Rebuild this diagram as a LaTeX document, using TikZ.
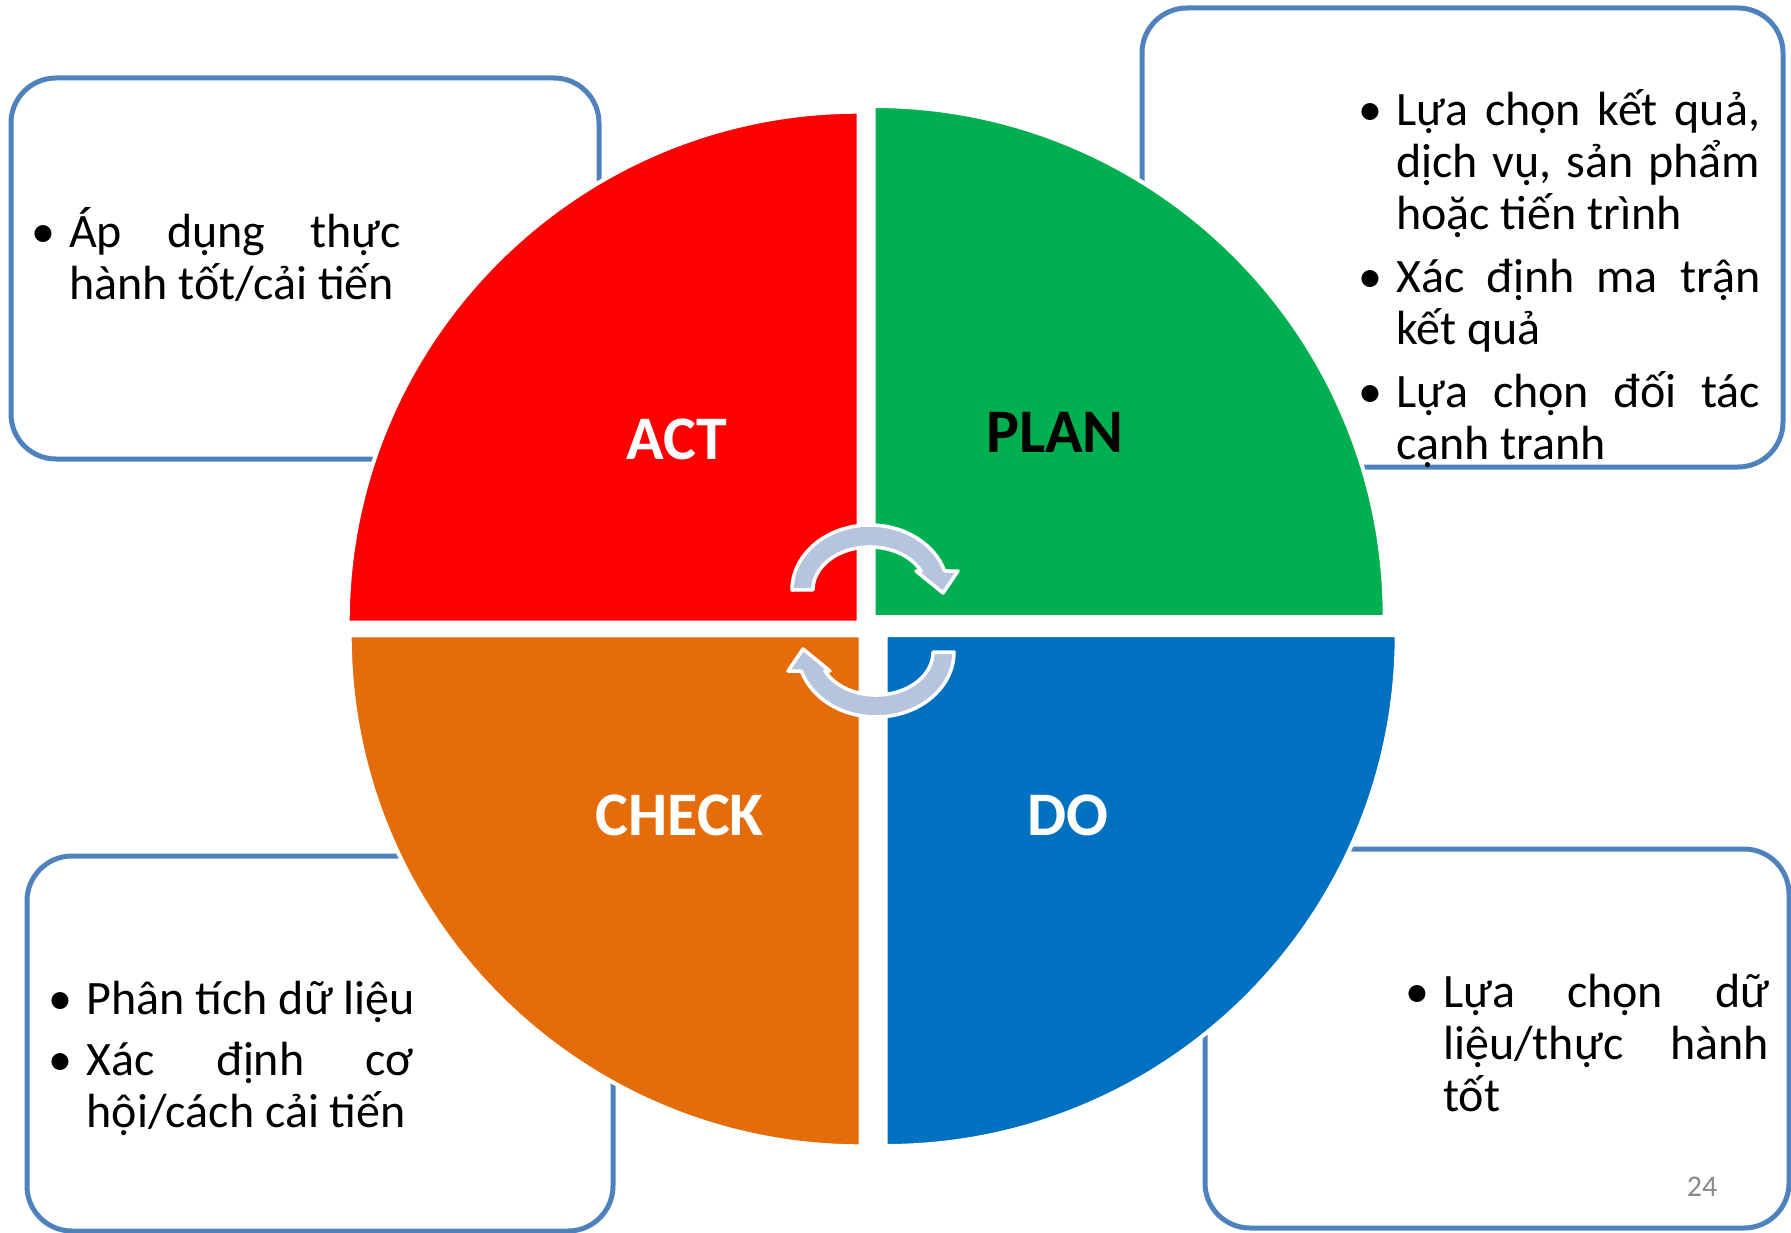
\documentclass[tikz,border=0pt]{standalone}
\usepackage{fontspec}
\setmainfont{Carlito}
\definecolor{qred}{HTML}{FF0000}
\definecolor{qgreen}{HTML}{00B050}
\definecolor{qorange}{HTML}{E46C0A}
\definecolor{qblue}{HTML}{0070C0}
\definecolor{boxblue}{HTML}{4F81BD}
\definecolor{arrowfill}{RGB}{183,196,222}
\definecolor{numgray}{RGB}{137,137,137}
\newcommand\bul{\llap{\makebox[0pt]{•}\hspace{26pt}}}
\tikzset{
  box/.style={draw=boxblue, line width=5pt, rounded corners=45pt},
  quad/.style={draw=white, line width=4pt},
  cyc/.style={fill=arrowfill, draw=white, line width=3.5pt, line join=round},
  lab/.style={font=\fontsize{62}{70}\selectfont\bfseries, anchor=base, inner sep=0pt},
  txt/.style={font=\fontsize{48}{52}\selectfont, anchor=base west, inner sep=0pt},
}
\begin{document}
\begin{tikzpicture}[x=1pt,y=-1pt]
\useasboundingbox (0,0) rectangle (1791,1233);
% corner boxes
\draw[box] (11,78) rectangle (599,459);
\draw[box] (1142,8) rectangle (1783,467);
\draw[box] (27,856) rectangle (613,1231);
\draw[box] (1205,849) rectangle (1789,1228);
% quadrants
\filldraw[quad, fill=qred] (858.7,622.7) -- ++(-511,0) arc[start angle=180, end angle=270, radius=511] -- cycle;
\filldraw[quad, fill=qgreen] (873.7,617) -- ++(0,-511) arc[start angle=270, end angle=360, radius=511] -- cycle;
\filldraw[quad, fill=qorange] (860.7,635.3) -- ++(0,511) arc[start angle=90, end angle=180, radius=511] -- cycle;
\filldraw[quad, fill=qblue] (885.7,635) -- ++(511,0) arc[start angle=0, end angle=90, radius=511] -- cycle;
% circular arrows
\draw[cyc] (792,590) arc[start angle=180, end angle=343, x radius=78, y radius=65]
  -- (958,571) -- (943,593) -- (916,571) -- (921.2,571.1)
  arc[start angle=334, end angle=180, x radius=57, y radius=43] -- cycle;
\draw[cyc, rotate around={180:(873,621)}] (792,590) arc[start angle=180, end angle=343, x radius=78, y radius=65]
  -- (958,571) -- (943,593) -- (916,571) -- (921.2,571.1)
  arc[start angle=334, end angle=180, x radius=57, y radius=43] -- cycle;
% quadrant labels
\node[lab, text=white] (act) at (677,459.3) {ACT};
\node[lab, text=black] (plan) at (1055,452.7) {PLAN};
\node[lab, text=white] (check) at (679.7,835) {CHECK};
\node[lab, text=white] (do) at (1068,835) {DO};
% box texts
\node[txt] (tact) at (69,248) {\vtop{\lineskiplimit=-1000pt
  \hbox{\bul\makebox[332pt][s]{Áp dụng thực}}
  \hbox{hành tốt/cải tiến}}};
\node[txt] (tplan) at (1396,126) {\vtop{\lineskiplimit=-1000pt
  \hbox{\bul\makebox[364pt][s]{Lựa chọn kết quả,}}
  \hbox{\makebox[364pt][s]{dịch vụ, sản phẩm}}
  \hbox{hoặc tiến trình}
  \vskip 11pt
  \hbox{\bul\makebox[364pt][s]{Xác định ma trận}}
  \hbox{kết quả}
  \vskip 11pt
  \hbox{\bul\makebox[364pt][s]{Lựa chọn đối tác}}
  \hbox{cạnh tranh}}};
\node[txt] (tcheck) at (86.5,1014) {\vtop{\lineskiplimit=-1000pt
  \hbox{\bul Phân tích dữ liệu}
  \vskip 9pt
  \hbox{\bul\makebox[327pt][s]{Xác định cơ}}
  \hbox{hội/cách cải tiến}}};
\node[txt] (tdo) at (1443,1007) {\vtop{\lineskiplimit=-1000pt
  \hbox{\bul\makebox[326pt][s]{Lựa chọn dữ}}
  \hbox{\makebox[326pt][s]{liệu/thực hành}}
  \hbox{tốt}}};
\node[font=\fontsize{30}{36}\selectfont, text=numgray, anchor=base, inner sep=0pt] (pnum) at (1702,1196) {24};
\end{tikzpicture}
\end{document}
